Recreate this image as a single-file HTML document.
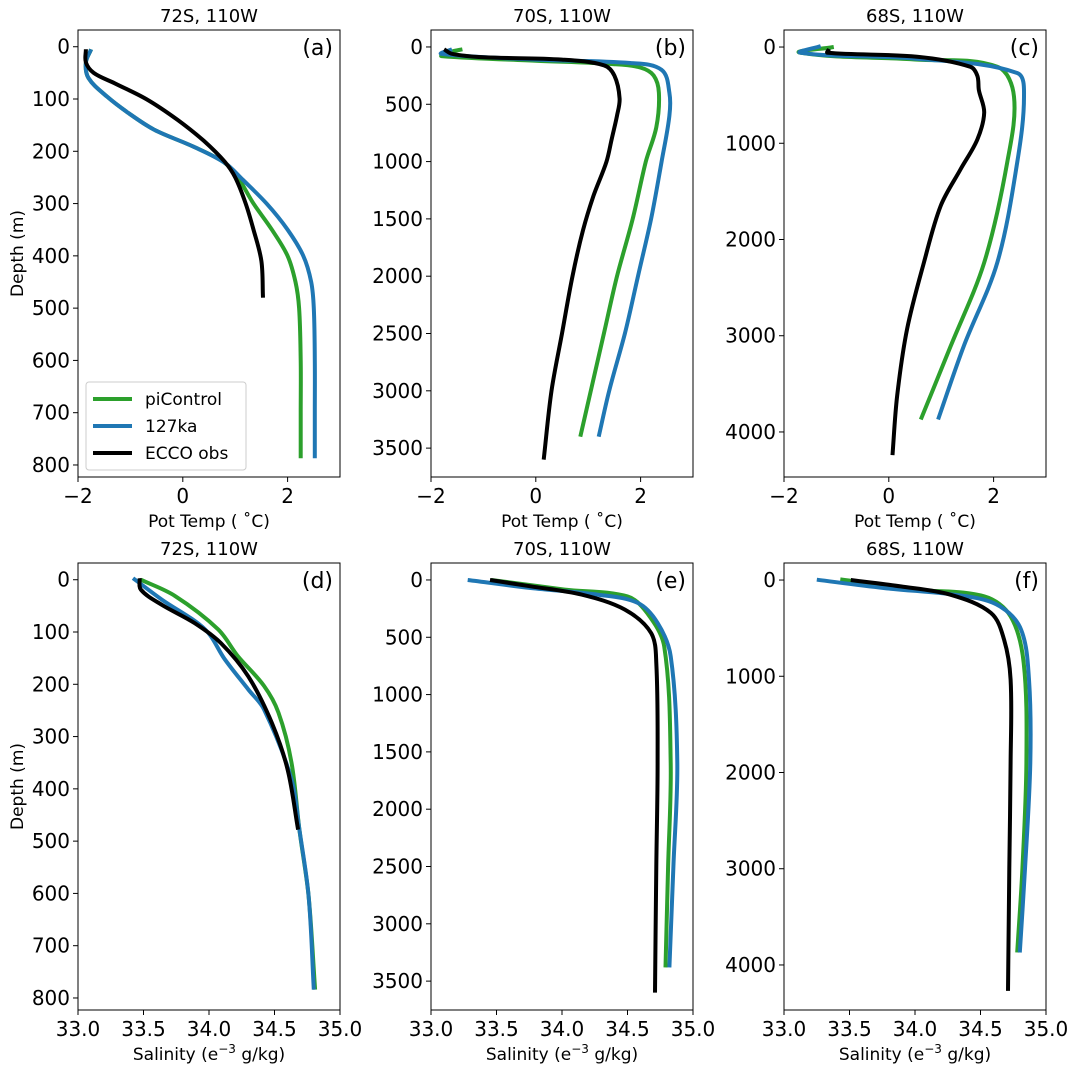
<!DOCTYPE html>
<html><head><meta charset="utf-8">
<style>
body{margin:0;background:#fff;}
svg{display:block;font-family:"DejaVu Sans","Liberation Sans",sans-serif;}
</style></head>
<body>
<svg id="fig" width="1077" height="1073" viewBox="0 0 1077 1073" xmlns="http://www.w3.org/2000/svg"></svg>
<script>
// ---- data (x value, depth m) ----
const aGreen=[[-1.75,5],[-1.85,30],[-1.8,60],[-1.45,95],[-1.05,126],[-0.54,159],[0.2,191],[0.8,222],[1.05,250],[1.35,300],[1.7,350],[2.0,400],[2.15,450],[2.22,500],[2.25,600],[2.25,700],[2.25,787]];
const aBlue=[[-1.75,5],[-1.85,30],[-1.8,60],[-1.45,95],[-1.05,126],[-0.54,159],[0.2,191],[0.8,222],[1.15,255],[1.6,300],[2.0,350],[2.3,400],[2.45,450],[2.5,500],[2.52,600],[2.52,700],[2.52,787]];
const aBlack=[[-1.85,5],[-1.85,30],[-1.7,50],[-1.3,70],[-0.7,100],[-0.1,140],[0.4,180],[0.8,220],[1.0,250],[1.2,300],[1.35,350],[1.5,410],[1.53,480]];
const bGreen=[[-1.4,20],[-1.6,40],[-1.7,60],[-1.8,80],[0,120],[1.5,150],[2.0,180],[2.25,250],[2.35,400],[2.3,700],[2.1,1000],[1.85,1500],[1.55,2000],[1.3,2500],[1.05,3000],[0.85,3400]];
const bBlue=[[-1.6,20],[-1.8,60],[0,110],[1.8,140],[2.4,200],[2.55,400],[2.55,600],[2.4,1000],[2.2,1500],[1.95,2000],[1.7,2500],[1.4,3000],[1.2,3400]];
const bBlack=[[-1.75,20],[-1.6,60],[-1,90],[0.5,110],[1.3,160],[1.5,250],[1.6,450],[1.55,600],[1.45,800],[1.35,1000],[1.1,1300],[0.9,1600],[0.7,2000],[0.5,2500],[0.3,3000],[0.15,3600]];
const cGreen=[[-1.05,0],[-1.68,60],[0.5,130],[2.07,205],[2.39,516],[2.26,1200],[1.82,2240],[1.18,3110],[0.61,3870]];
const cBlue=[[-1.3,-10],[-1.68,60],[0.5,120],[2.45,270],[2.58,516],[2.45,1200],[2.07,2240],[1.43,3110],[0.94,3870]];
const cBlack=[[-1.14,20],[-1.17,60],[0.54,100],[1.56,205],[1.69,300],[1.72,450],[1.82,680],[1.69,960],[1.37,1270],[0.99,1650],[0.67,2240],[0.35,2930],[0.16,3620],[0.07,4240]];
const dGreen=[[33.48,0],[33.74,31],[34.07,95],[34.22,146],[34.42,203],[34.53,254],[34.63,350],[34.69,478],[34.76,605],[34.81,784]];
const dBlue=[[33.42,-3],[33.64,38],[33.97,95],[34.12,152],[34.30,210],[34.42,248],[34.63,382],[34.69,478],[34.76,605],[34.80,784]];
const dBlack=[[33.47,-3],[33.48,19],[33.64,48],[33.89,83],[34.09,121],[34.30,185],[34.48,274],[34.60,363],[34.68,478]];
const eGreen=[[33.46,0],[34.02,84],[34.5,143],[34.65,288],[34.78,579],[34.83,1600],[34.81,2500],[34.79,3380]];
const eBlue=[[33.28,0],[33.76,70],[34.27,128],[34.58,201],[34.73,375],[34.83,666],[34.88,1600],[34.85,2500],[34.82,3380]];
const eBlack=[[33.45,0],[33.76,55],[34.15,128],[34.48,259],[34.68,463],[34.72,725],[34.73,1600],[34.72,2500],[34.71,3600]];
const fGreen=[[33.43,-7],[34.02,100],[34.53,170],[34.73,378],[34.83,862],[34.85,1900],[34.82,3000],[34.78,3870]];
const fBlue=[[33.25,-3],[33.76,83],[34.4,170],[34.65,274],[34.81,516],[34.87,1035],[34.88,1900],[34.84,3000],[34.80,3870]];
const fBlack=[[33.51,0],[33.89,66],[34.27,152],[34.58,343],[34.68,620],[34.73,1035],[34.73,1900],[34.72,3000],[34.71,4270]];
const tempTicks=[-2,0,2];
const salTicks=["33.0","33.5","34.0","34.5","35.0"];
const yTicksA=[0,100,200,300,400,500,600,700,800];
const yTicksB=[0,500,1000,1500,2000,2500,3000,3500];
const yTicksC=[0,1000,2000,3000,4000];
const titles=["72S, 110W","70S, 110W","68S, 110W"];
const letters=["(a)","(b)","(c)","(d)","(e)","(f)"];

const NS="http://www.w3.org/2000/svg";
const svg=document.getElementById('fig');
function el(tag,attrs,parent,text){const e=document.createElementNS(NS,tag);for(const k in attrs)e.setAttribute(k,attrs[k]);if(text!==undefined)e.textContent=text;(parent||svg).appendChild(e);return e;}
const GREEN="#2ca02c",BLUE="#1f77b4",BLACK="#000";
const cols=[78,431,784],W=262,rows=[30,563],H=447;
const panels=[
 {c:0,r:0,x0:-2,x1:3,y0:-32,y1:823,yt:yTicksA,xt:tempTicks,s:[aGreen,aBlue,aBlack]},
 {c:1,r:0,x0:-2,x1:3,y0:-148,y1:3752,yt:yTicksB,xt:tempTicks,s:[bGreen,bBlue,bBlack]},
 {c:2,r:0,x0:-2,x1:3,y0:-177,y1:4468,yt:yTicksC,xt:tempTicks,s:[cGreen,cBlue,cBlack]},
 {c:0,r:1,x0:33,x1:35,y0:-32,y1:823,yt:yTicksA,xt:salTicks,s:[dGreen,dBlue,dBlack]},
 {c:1,r:1,x0:33,x1:35,y0:-148,y1:3752,yt:yTicksB,xt:salTicks,s:[eGreen,eBlue,eBlack]},
 {c:2,r:1,x0:33,x1:35,y0:-177,y1:4468,yt:yTicksC,xt:salTicks,s:[fGreen,fBlue,fBlack]}];
const colors=[GREEN,BLUE,BLACK],snames=["picontrol","127ka","ecco-obs"];
function dist(a,b){return Math.hypot(b[0]-a[0],b[1]-a[1]);}
function tangent(pts,i){const a=pts[Math.max(i-1,0)],b=pts[Math.min(i+1,pts.length-1)];const l=dist(a,b)||1;return [(b[0]-a[0])/l,(b[1]-a[1])/l];}
function pathFrom(pts){
 let d="M"+pts[0][0].toFixed(1)+","+pts[0][1].toFixed(1);
 for(let i=0;i<pts.length-1;i++){
  const p1=pts[i],p2=pts[i+1],L=dist(p1,p2)/3;
  const t1=tangent(pts,i),t2=tangent(pts,i+1);
  const c1=[p1[0]+t1[0]*L,p1[1]+t1[1]*L],c2=[p2[0]-t2[0]*L,p2[1]-t2[1]*L];
  d+=" C"+c1[0].toFixed(1)+","+c1[1].toFixed(1)+" "+c2[0].toFixed(1)+","+c2[1].toFixed(1)+" "+p2[0].toFixed(1)+","+p2[1].toFixed(1);
 }
 return d;}
panels.forEach((p,i)=>{
 const L=cols[p.c],T=rows[p.r];
 const X=v=>L+(v-p.x0)/(p.x1-p.x0)*W;
 const Y=v=>T+(v-p.y0)/(p.y1-p.y0)*H;
 const g=el('g',{});
 
 
 const cp=el('clipPath',{id:'cp'+i},g);el('rect',{x:L,y:T,width:W,height:H},cp);
 p.s.forEach((ser,k)=>{
  const pth=el('path',{d:pathFrom(ser.map(q=>[X(q[0]),Y(q[1])])),fill:'none',stroke:colors[k],'stroke-width':4,'stroke-linejoin':'round','clip-path':'url(#cp'+i+')'},g);
  
  
 });
 const fr=el('rect',{x:L,y:T,width:W,height:H,fill:'none',stroke:'#000','stroke-width':1},g);
 
 
 p.yt.forEach(v=>{const y=Y(v);el('line',{x1:L-5,x2:L,y1:y,y2:y,stroke:'#000'},g);
  const t=el('text',{x:L-8,y:y+7,'text-anchor':'end','font-size':20},g,String(v));
  
  });
 p.xt.forEach(v=>{const x=X(parseFloat(v));el('line',{x1:x,x2:x,y1:T+H,y2:T+H+5,stroke:'#000'},g);
  const t=el('text',{x:x,y:T+H+26,'text-anchor':'middle','font-size':20},g,String(v).replace('-','\u2212'));
  
  });
 const tt=el('text',{x:L+W/2,y:T-8,'text-anchor':'middle','font-size':18},g,titles[p.c]);
 
 
 const lt=el('text',{x:L+W-7,y:T+25,'text-anchor':'end','font-size':22},g,letters[i]);
 
 
 const xl=el('text',{x:L+W/2,y:T+H+50,'text-anchor':'middle','font-size':17},g);
 
 
 if(p.r===0){xl.textContent="Pot Temp ( \u02DAC)";}
 else{xl.appendChild(document.createTextNode("Salinity (e"));
  el('tspan',{dy:-7,'font-size':12},xl,"\u22123");
  el('tspan',{dy:7},xl," g/kg)");}
 if(p.c===0){const yl=el('text',{x:0,y:0,transform:'translate(23,'+(T+H/2)+') rotate(-90)','text-anchor':'middle','font-size':17},g,"Depth (m)");
  
  }
});
// legend
const lg=el('g',{});


el('rect',{x:86,y:382,width:160,height:88,rx:3,fill:'#fff',stroke:'#ccc'},lg);
["piControl","127ka","ECCO obs"].forEach((n,k)=>{const y=399+k*27;
 el('line',{x1:93,x2:132,y1:y,y2:y,stroke:colors[k],'stroke-width':4},lg);
 const t=el('text',{x:145,y:y+6,'font-size':17},lg,n);
 
 });
</script>
</body></html>
